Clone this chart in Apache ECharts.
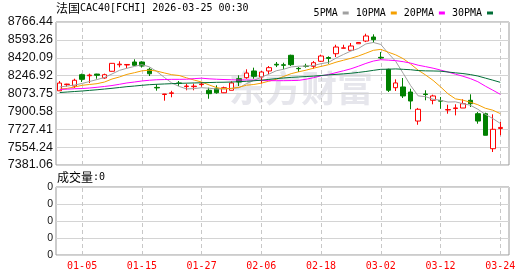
<!DOCTYPE html>
<html><head><meta charset="utf-8">
<script src="https://cdn.jsdelivr.net/npm/echarts@6/dist/echarts.min.js"></script>
<style>html,body{margin:0;padding:0;background:#fff}#c{width:530px;height:276px}</style>
</head><body><div id="c"></div>
<script>
const dates = ['12-30','12-31','01-02','01-05','01-06','01-07','01-08','01-09','01-12','01-13','01-14','01-15','01-16','01-19','01-20','01-21','01-22','01-23','01-26','01-27','01-28','01-29','01-30','02-02','02-03','02-04','02-05','02-06','02-09','02-10','02-11','02-12','02-13','02-16','02-17','02-18','02-19','02-20','02-23','02-24','02-25','02-26','02-27','03-02','03-03','03-04','03-05','03-06','03-09','03-10','03-11','03-12','03-13','03-16','03-17','03-18','03-19','03-20','03-23','03-24'];
const opens  = [8100,8160,8146,8256,8246,8262,8224,8289,8352,8350,8379,8379,8308,8133,8064,8075,8176,8141,8140,8160,8105,8120,8081,8105,8217,8227,8292,8234,8292,8357,8352,8444,8317,8339,8337,8386,8422,8459,8512,8492,8556,8582,8621,8424,8308,8130,8137,8088,7807,8069,8008,8004,7914,7928,7933,8008,7878,7878,7539,7735];
const closes = [8175,8165,8202,8211,8252,8250,8256,8366,8358,8355,8347,8340,8265,8128,8069,8080,8171,8146,8145,8165,8072,8081,8130,8176,8185,8272,8240,8282,8324,8350,8347,8353,8314,8337,8372,8437,8414,8524,8516,8534,8568,8631,8595,8418,8105,8176,8050,8001,7921,8064,8050,8000,7918,7934,7975,7975,7807,7669,7727,7745];
const lows   = [8098,8140,8127,8185,8175,8217,8217,8287,8327,8320,8340,8325,8243,8101,8004,8037,8146,8105,8105,8140,8023,8072,8078,8105,8146,8217,8217,8169,8260,8330,8308,8340,8282,8324,8314,8379,8362,8427,8512,8492,8556,8572,8566,8405,8088,8098,8030,7921,7771,8008,7969,7926,7878,7862,7933,7943,7781,7669,7507,7669];
const highs  = [8195,8168,8217,8266,8266,8265,8266,8368,8386,8356,8405,8386,8324,8163,8070,8100,8195,8169,8169,8185,8130,8153,8140,8192,8250,8308,8324,8292,8340,8379,8372,8450,8330,8362,8388,8450,8434,8546,8546,8563,8572,8653,8647,8476,8314,8211,8224,8120,7934,8105,8062,8040,7965,7969,8018,8066,7894,7888,7872,7798];
const ma5  = [8137,8146,8156,8171,8190,8209,8229,8263,8298,8318,8336,8353,8332,8287,8230,8176,8142,8118,8121,8130,8125,8117,8118,8124,8129,8169,8201,8231,8261,8294,8309,8331,8338,8340,8345,8363,8375,8417,8452,8485,8510,8554,8568,8549,8463,8385,8269,8150,8051,8043,8018,8008,7991,7993,7975,7960,7921,7872,7831,7784];
const ma10 = [8116,8123,8137,8153,8161,8169,8185,8214,8234,8259,8275,8293,8300,8291,8273,8256,8248,8225,8204,8185,8157,8131,8118,8123,8134,8154,8161,8174,8193,8211,8239,8266,8284,8300,8319,8336,8353,8377,8396,8415,8437,8464,8492,8501,8474,8448,8411,8359,8300,8253,8201,8138,8071,8022,8009,7989,7965,7931,7912,7879];
const ma20 = [8113,8116,8120,8122,8127,8134,8142,8151,8163,8176,8185,8195,8202,8207,8209,8211,8211,8212,8218,8222,8216,8212,8209,8207,8204,8205,8204,8200,8198,8198,8198,8199,8201,8212,8227,8245,8257,8276,8294,8313,8338,8365,8388,8401,8397,8392,8382,8368,8348,8334,8319,8301,8282,8261,8241,8218,8188,8145,8106,8066];
const ma30 = [8083,8088,8093,8098,8104,8110,8117,8124,8132,8140,8146,8153,8159,8163,8166,8169,8172,8174,8176,8178,8180,8182,8183,8185,8188,8192,8197,8203,8210,8218,8224,8230,8234,8238,8242,8248,8254,8259,8264,8270,8278,8287,8298,8308,8309,8312,8308,8304,8296,8293,8292,8290,8282,8274,8267,8257,8243,8223,8203,8182];
const volumes = [0,0,0,0,0,0,0,0,0,0,0,0,0,0,0,0,0,0,0,0,0,0,0,0,0,0,0,0,0,0,0,0,0,0,0,0,0,0,0,0,0,0,0,0,0,0,0,0,0,0,0,0,0,0,0,0,0,0,0,0];
const priceTicks = ['7381.06','7554.24','7727.41','7900.58','8073.75','8246.92','8420.09','8593.26','8766.44'];
const volumeTicks = ['0','0','0','0','0'];
const xTickLabels = ['01-05','01-15','01-27','02-06','02-18','03-02','03-12','03-24'];
const priceMin = 7381.06, priceMax = 8766.44;

const MONO = '"DejaVu Sans Mono", monospace';
const CJK = '"Noto Sans CJK SC"';
const chart = echarts.init(document.getElementById('c'));
const candles = dates.map((d, i) => [opens[i], closes[i], lows[i], highs[i]]);
const vlines = xTickLabels.map(d => ({ xAxis: d }));
const dash = { type: [4, 3], color: '#c8c8c8', width: 1 };
const mk = { silent: true, z: 1, symbol: ['none', 'none'], label: { show: false }, lineStyle: dash, emphasis: { disabled: true }, data: vlines, animation: false };
const lineS = (name, data, color) => ({ name, type: 'line', xAxisIndex: 1, yAxisIndex: 1, data, color, symbol: 'none', z: 3, lineStyle: { width: 1, color }, silent: true });

chart.setOption({
  animation: false,
  graphic: [
    { type: 'text', left: 229, top: 70, z: 0, silent: true, style: { text: '东方财富', fill: '#e6e6ec', font: 'bold 36px "Noto Sans CJK SC"' } },
    { type: 'text', left: 56, top: 2, style: { text: '{c|法国}{a|CAC40[FCHI] 2026-03-25 00:30}', rich: { c: { fontSize: 12, fontFamily: CJK, fill: '#000' }, a: { fontSize: 10, fontFamily: MONO, fill: '#000' } } } },
    { type: 'text', left: 57, top: 171, style: { text: '{c|成交量}{a|:0}', rich: { c: { fontSize: 12, fontFamily: CJK, fill: '#000' }, a: { fontSize: 10, fontFamily: MONO, fill: '#000' } } } }
  ],
  legend: {
    data: ['5PMA', '10PMA', '20PMA', '30PMA'], right: 32, top: 3, align: 'right', icon: 'rect',
    itemWidth: 6, itemHeight: 3, itemGap: 7, selectedMode: false,
    textStyle: { fontFamily: MONO, fontSize: 10, color: '#000' }
  },
  grid: [
    { left: 56, top: 22, width: 453, height: 143, show: true, borderColor: '#999', borderWidth: 1 },
    { left: 56, top: 22, width: 448, height: 143 },
    { left: 56, top: 187, width: 453, height: 68, show: true, borderColor: '#999', borderWidth: 1 },
    { left: 56, top: 187, width: 448, height: 68 }
  ],
  xAxis: [
    { gridIndex: 0, type: 'value', show: false, min: 0, max: 1 },
    { gridIndex: 1, type: 'category', data: dates, boundaryGap: true, show: false },
    { gridIndex: 2, type: 'value', show: false, min: 0, max: 1 },
    { gridIndex: 3, type: 'category', data: dates, boundaryGap: true,
      axisLine: { show: false }, axisTick: { show: false }, splitLine: { show: false },
      axisLabel: { interval: (i, v) => xTickLabels.includes(v), color: '#ff0000', fontFamily: MONO, fontSize: 10, margin: 6 } }
  ],
  yAxis: [
    { gridIndex: 0, type: 'value', min: 0, max: 8, interval: 1, axisLine: { show: false }, axisTick: { show: false },
      splitLine: { lineStyle: { color: '#d4d4d4', width: 1 } },
      axisLabel: { formatter: v => priceTicks[Math.round(v)], color: '#111', fontFamily: '"Liberation Sans", Arial', fontSize: 12.5, margin: 3 } },
    { gridIndex: 1, type: 'value', min: priceMin, max: priceMax, show: false },
    { gridIndex: 2, type: 'value', min: 0, max: 4, interval: 1, axisLine: { show: false }, axisTick: { show: false },
      splitLine: { lineStyle: { color: '#d4d4d4', width: 1 } },
      axisLabel: { formatter: v => volumeTicks[Math.round(v)], color: '#111', fontFamily: '"Liberation Sans", Arial', fontSize: 10.5, margin: 3 } },
    { gridIndex: 3, type: 'value', min: 0, max: 1, show: false }
  ],
  series: [
    { name: 'K', type: 'candlestick', xAxisIndex: 1, yAxisIndex: 1, data: candles, barWidth: 5, z: 2, silent: true,
      itemStyle: { color: '#ffffff', color0: '#008000', borderColor: '#ff0000', borderColor0: '#008000', borderWidth: 1 },
      markLine: mk },
    lineS('5PMA', ma5, '#a0a0a0'),
    lineS('10PMA', ma10, '#f5a000'),
    lineS('20PMA', ma20, '#ff00ff'),
    lineS('30PMA', ma30, '#006e37'),
    { name: 'VOL', type: 'bar', xAxisIndex: 3, yAxisIndex: 3, data: volumes, barWidth: 5, silent: true, markLine: mk }
  ]
});
</script></body></html>
